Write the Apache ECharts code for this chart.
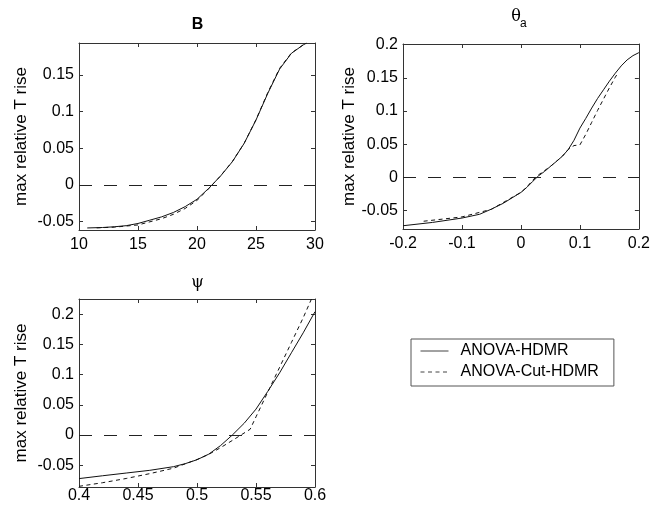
<!DOCTYPE html>
<html><head><meta charset="utf-8">
<script src="https://cdn.jsdelivr.net/npm/echarts@6/dist/echarts.min.js"></script>
<style>html,body{margin:0;padding:0;background:#fff}#c{width:653px;height:508px}</style>
</head><body><div id="c"></div>
<script>
// ---- Data ----
const seriesNames = ['ANOVA-HDMR', 'ANOVA-Cut-HDMR'];
const yAxisName = 'max relative T rise';

// Panel B
const bX       = [10.7, 12, 13, 14, 15, 16, 17, 18, 19, 20, 21, 22, 23, 24, 25, 26, 27, 28, 29, 29.3];
const bSolid   = [-0.0586, -0.058, -0.057, -0.0555, -0.0525, -0.048, -0.0435, -0.0375, -0.0295, -0.0195, -0.0045, 0.0123, 0.0318, 0.0568, 0.0886, 0.125, 0.158, 0.1795, 0.191, 0.1936];
const bDashX   = [11.5, 13, 15, 17, 18, 19, 20, 21, 22, 23, 24, 25, 26, 27, 28, 29, 29.2];
const bDashed  = [-0.0585, -0.0575, -0.0545, -0.046, -0.040, -0.032, -0.021, -0.005, 0.0125, 0.032, 0.057, 0.089, 0.126, 0.159, 0.18, 0.191, 0.193];
const bXTicks  = [10, 15, 20, 25, 30];
const bYTicks  = [-0.05, 0, 0.05, 0.1, 0.15];

// Panel theta_a
const tX       = [-0.2, -0.15, -0.1, -0.07, -0.05, -0.03, -0.01, 0, 0.01, 0.02, 0.03, 0.04, 0.05, 0.06, 0.07, 0.08, 0.09, 0.1, 0.11, 0.12, 0.13, 0.14, 0.15, 0.16, 0.17, 0.18, 0.19, 0.2];
const tSolid   = [-0.0728, -0.0678, -0.0612, -0.0555, -0.0477, -0.039, -0.028, -0.0226, -0.015, -0.006, 0.0025, 0.009, 0.0166, 0.024, 0.0317, 0.0417, 0.056, 0.0743, 0.089, 0.1045, 0.119, 0.132, 0.145, 0.157, 0.168, 0.177, 0.1835, 0.188];
const tDashX   = [-0.165, -0.13, -0.1, -0.05, 0, 0.01, 0.02, 0.03, 0.05, 0.07, 0.08, 0.09, 0.1, 0.11, 0.12, 0.13, 0.14, 0.15, 0.16, 0.165];
const tDashed  = [-0.066, -0.0625, -0.0595, -0.048, -0.0225, -0.0145, -0.004, 0.004, 0.0166, 0.0317, 0.042, 0.048, 0.049, 0.065, 0.083, 0.101, 0.118, 0.135, 0.151, 0.158];
const tXTicks  = [-0.2, -0.1, 0, 0.1, 0.2];
const tYTicks  = [-0.05, 0, 0.05, 0.1, 0.15, 0.2];

// Panel psi
const pX       = [0.4, 0.42, 0.44, 0.46, 0.48, 0.49, 0.5, 0.51, 0.52, 0.53, 0.54, 0.55, 0.56, 0.57, 0.58, 0.59, 0.6];
const pSolid   = [-0.0722, -0.0675, -0.063, -0.0585, -0.0525, -0.0475, -0.041, -0.0317, -0.0175, 0, 0.0194, 0.0428, 0.0722, 0.1028, 0.136, 0.169, 0.204];
const pDashX   = [0.4, 0.42, 0.44, 0.46, 0.48, 0.5, 0.51, 0.52, 0.53, 0.545, 0.55, 0.56, 0.57, 0.58, 0.59, 0.597];
const pDashed  = [-0.085, -0.079, -0.072, -0.064, -0.055, -0.0406, -0.032, -0.021, -0.009, 0.0094, 0.03, 0.071, 0.112, 0.153, 0.194, 0.225];
const pXTicks  = [0.4, 0.45, 0.5, 0.55, 0.6];
const pYTicks  = [-0.05, 0, 0.05, 0.1, 0.15, 0.2];

// ---- Layout / style ----
const FONT = '"Liberation Sans", Arial, Helvetica, sans-serif';
const SERIF = '"DejaVu Serif", "Liberation Serif", serif';
const FRAME = '#333';
const panels = [
  {grid:{left:79, top:43, width:236, height:187}, x:[10,30], y:[-0.0614,0.1936], xt:bXTicks, yt:bYTicks,
   solid:[bX,bSolid], dashed:[bDashX,bDashed], nameGap:49, xMargin:7},
  {grid:{left:403, top:44, width:236, height:185}, x:[-0.2,0.2], y:[-0.0777,0.201], xt:tXTicks, yt:tYTicks,
   solid:[tX,tSolid], dashed:[tDashX,tDashed], nameGap:33, xMargin:7},
  {grid:{left:79, top:299, width:236, height:188}, x:[0.4,0.6], y:[-0.0861,0.225], xt:pXTicks, yt:pYTicks,
   solid:[pX,pSolid], dashed:[pDashX,pDashed], nameGap:49, xMargin:1}
];

function zip(xs, ys){ return xs.map((v,i)=>[v, ys[i]]); }

const grid = [], xAxis = [], yAxis = [], series = [];
panels.forEach((p, i) => {
  grid.push(Object.assign({containLabel:false}, p.grid));
  const common = {type:'value', gridIndex:i, axisLine:{show:true, onZero:false, lineStyle:{color:FRAME, width:1}},
                  splitLine:{show:false}};
  xAxis.push(Object.assign({}, common, {position:'bottom', min:p.x[0], max:p.x[1],
    axisTick:{show:true, inside:true, length:4, customValues:p.xt, lineStyle:{color:FRAME}},
    axisLabel:{show:true, customValues:p.xt, margin:p.xMargin, color:'#000', fontSize:16, fontFamily:FONT}}));
  xAxis.push(Object.assign({}, common, {position:'top', min:p.x[0], max:p.x[1],
    axisTick:{show:true, inside:true, length:4, customValues:p.xt, lineStyle:{color:FRAME}},
    axisLabel:{show:false}}));
  yAxis.push(Object.assign({}, common, {position:'left', min:p.y[0], max:p.y[1],
    name:yAxisName, nameLocation:'middle', nameGap:p.nameGap,
    nameTextStyle:{color:'#000', fontSize:17, fontFamily:FONT},
    axisTick:{show:true, inside:true, length:4, customValues:p.yt, lineStyle:{color:FRAME}},
    axisLabel:{show:true, customValues:p.yt, margin:5, color:'#000', fontSize:16, fontFamily:FONT}}));
  yAxis.push(Object.assign({}, common, {position:'right', min:p.y[0], max:p.y[1],
    axisTick:{show:true, inside:true, length:4, customValues:p.yt, lineStyle:{color:FRAME}},
    axisLabel:{show:false}}));
  series.push({name:seriesNames[0], type:'line', xAxisIndex:2*i, yAxisIndex:2*i, data:zip(p.solid[0], p.solid[1]),
    showSymbol:false, symbol:'none', lineStyle:{color:'#111', width:1, type:'solid'}, itemStyle:{color:'#111'},
    silent:true,
    markLine:{silent:true, symbol:'none', label:{show:false},
      lineStyle:{color:'#222', width:1, type:[13,12]}, data:[{yAxis:0}]}});
  series.push({name:seriesNames[1], type:'line', xAxisIndex:2*i, yAxisIndex:2*i, data:zip(p.dashed[0], p.dashed[1]),
    showSymbol:false, symbol:'none', lineStyle:{color:'#111', width:1, type:[4,3.5]}, itemStyle:{color:'#111'},
    silent:true});
});

const chart = echarts.init(document.getElementById('c'), null, {renderer:'canvas'});
chart.setOption({
  animation:false,
  backgroundColor:'#fff',
  grid, xAxis, yAxis, series,
  legend:{
    data:seriesNames, orient:'vertical', left:411, top:339,
    backgroundColor:'#fff', borderColor:'#555', borderWidth:1,
    padding:[4,15,6,9], itemWidth:28, itemHeight:14, itemGap:5,
    itemStyle:{opacity:0, borderWidth:0},
    lineStyle:{width:1, color:'#444'},
    textStyle:{color:'#000', fontSize:16, fontFamily:FONT, lineHeight:16, padding:[0,0,0,7]},
    selectedMode:false
  },
  graphic:[
    {type:'text', x:197.5, y:25, style:{text:'B', align:'center', verticalAlign:'middle', font:'bold 16px '+FONT, fill:'#000'}},
    {type:'text', x:516, y:16.5, style:{text:'θ', align:'center', verticalAlign:'middle', font:'16px '+SERIF, fill:'#000'}},
    {type:'text', x:520, y:23.5, style:{text:'a', align:'left', verticalAlign:'middle', font:'12px '+FONT, fill:'#000'}},
    {type:'text', x:197.5, y:282.5, style:{text:'ψ', align:'center', verticalAlign:'middle', font:'16px '+SERIF, fill:'#000'}}
  ]
});
</script></body></html>
